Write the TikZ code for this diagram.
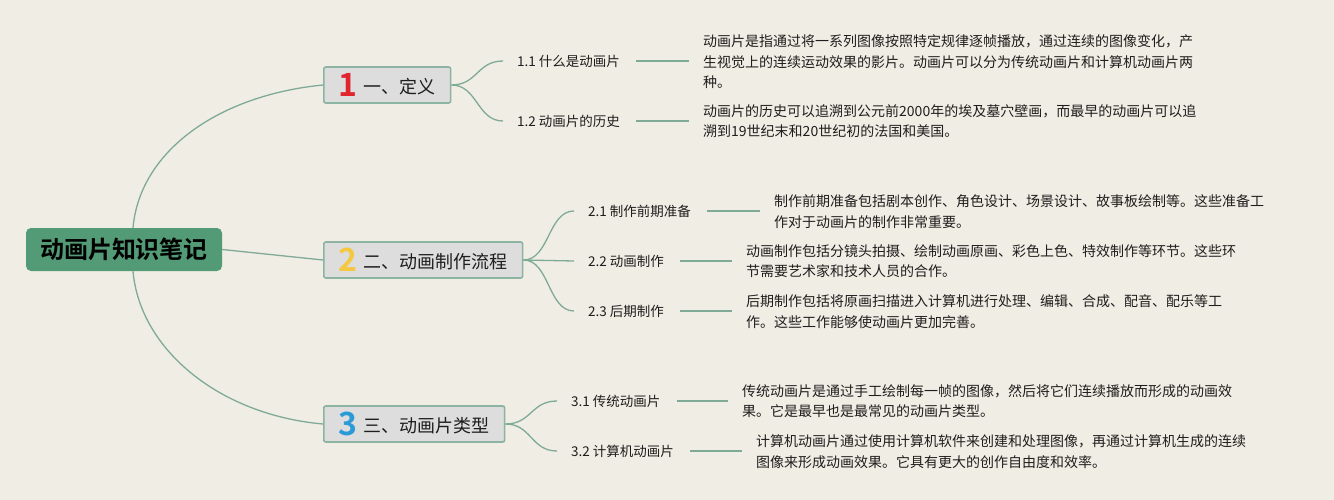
\documentclass[tikz,border=0pt]{standalone}
\usepackage{fontspec}
\setmainfont{Noto Sans CJK SC}[BoldFont={Noto Sans CJK SC Bold}]
\definecolor{bg}{RGB}{240,237,228}
\definecolor{conn}{RGB}{127,170,150}
\definecolor{rootfill}{RGB}{82,155,118}
\definecolor{brfill}{RGB}{220,221,220}
\definecolor{brdraw}{RGB}{141,179,162}
\definecolor{nred}{RGB}{224,37,47}
\definecolor{nyel}{RGB}{245,200,66}
\definecolor{nblue}{RGB}{43,155,216}
\definecolor{txt}{RGB}{30,30,30}
\tikzset{
  rootbox/.style={fill=rootfill, rounded corners=5pt, minimum height=43pt, inner xsep=14pt, inner ysep=0pt,
    font=\fontsize{24}{24}\selectfont\bfseries, text=black},
  brbox/.style={fill=brfill, draw=brdraw, line width=1.6pt, rounded corners=2pt, minimum height=36pt,
    inner xsep=15pt, inner ysep=0pt, font=\fontsize{18}{18}\selectfont, text=txt, anchor=west},
  sublbl/.style={inner sep=0pt, anchor=west, font=\fontsize{13.5}{16}\selectfont, text=txt},
  desc/.style={inner sep=0pt, anchor=west, align=left, font=\fontsize{14}{20.5}\selectfont, text=txt},
  link/.style={draw=conn, line width=1.3pt}
}
\begin{document}
\begin{tikzpicture}[x=1pt,y=-1pt]
\fill[bg] (0,0) rectangle (1334,500);
\useasboundingbox (0,0) rectangle (1334,500);

% root
\node[rootbox] (root) at (124,249.5) {动画片知识笔记};

% branches
\node[brbox] (b1) at (323,85) {\raisebox{-3pt}{\textcolor{nred}{\fontsize{32}{32}\selectfont\bfseries 1}}\hspace{6pt}一、定义};
\node[brbox] (b2) at (323,260) {\raisebox{-3pt}{\textcolor{nyel}{\fontsize{32}{32}\selectfont\bfseries 2}}\hspace{6pt}二、动画制作流程};
\node[brbox] (b3) at (323,424) {\raisebox{-3pt}{\textcolor{nblue}{\fontsize{32}{32}\selectfont\bfseries 3}}\hspace{6pt}三、动画片类型};

\draw[link] ([xshift=9pt]root.north) .. controls (140,150) and (220,95) .. (b1.west);
\draw[link] (root.east) -- (b2.west);
\draw[link] ([xshift=9pt]root.south) .. controls (140,350) and (220,415) .. (b3.west);

% sub labels
\node[sublbl] (s11) at (517,61) {1.1 什么是动画片};
\node[sublbl] (s12) at (517,121) {1.2 动画片的历史};
\node[sublbl] (s21) at (588,211) {2.1 制作前期准备};
\node[sublbl] (s22) at (588,261) {2.2 动画制作};
\node[sublbl] (s23) at (588,311) {2.3 后期制作};
\node[sublbl] (s31) at (571,401) {3.1 传统动画片};
\node[sublbl] (s32) at (571,451) {3.2 计算机动画片};

\foreach \b/\s in {b1/s11,b1/s12,b2/s21,b2/s22,b2/s23,b3/s31,b3/s32}{
  \draw[link] (\b.east) .. controls ([xshift=26pt]\b.east) and ([xshift=-40pt]\s.west) .. ([xshift=-14pt]\s.west);
}

% descriptions
\node[desc] (d11) at (703,62) {动画片是指通过将一系列图像按照特定规律逐帧播放，通过连续的图像变化，产\\生视觉上的连续运动效果的影片。动画片可以分为传统动画片和计算机动画片两\\种。};
\node[desc] (d12) at (703,121) {动画片的历史可以追溯到公元前2000年的埃及墓穴壁画，而最早的动画片可以追\\溯到19世纪末和20世纪初的法国和美国。};
\node[desc] (d21) at (774,211.5) {制作前期准备包括剧本创作、角色设计、场景设计、故事板绘制等。这些准备工\\作对于动画片的制作非常重要。};
\node[desc] (d22) at (746,261) {动画制作包括分镜头拍摄、绘制动画原画、彩色上色、特效制作等环节。这些环\\节需要艺术家和技术人员的合作。};
\node[desc] (d23) at (746,311.5) {后期制作包括将原画扫描进入计算机进行处理、编辑、合成、配音、配乐等工\\作。这些工作能够使动画片更加完善。};
\node[desc] (d31) at (742,401) {传统动画片是通过手工绘制每一帧的图像，然后将它们连续播放而形成的动画效\\果。它是最早也是最常见的动画片类型。};
\node[desc] (d32) at (756,451.5) {计算机动画片通过使用计算机软件来创建和处理图像，再通过计算机生成的连续\\图像来形成动画效果。它具有更大的创作自由度和效率。};

\foreach \s/\d in {s11/d11,s12/d12,s21/d21,s22/d22,s23/d23,s31/d31,s32/d32}{
  \draw[link] ([xshift=16pt]\s.east) -- ([xshift=-14pt]\s.east -| \d.west);
}
\end{tikzpicture}
\end{document}
